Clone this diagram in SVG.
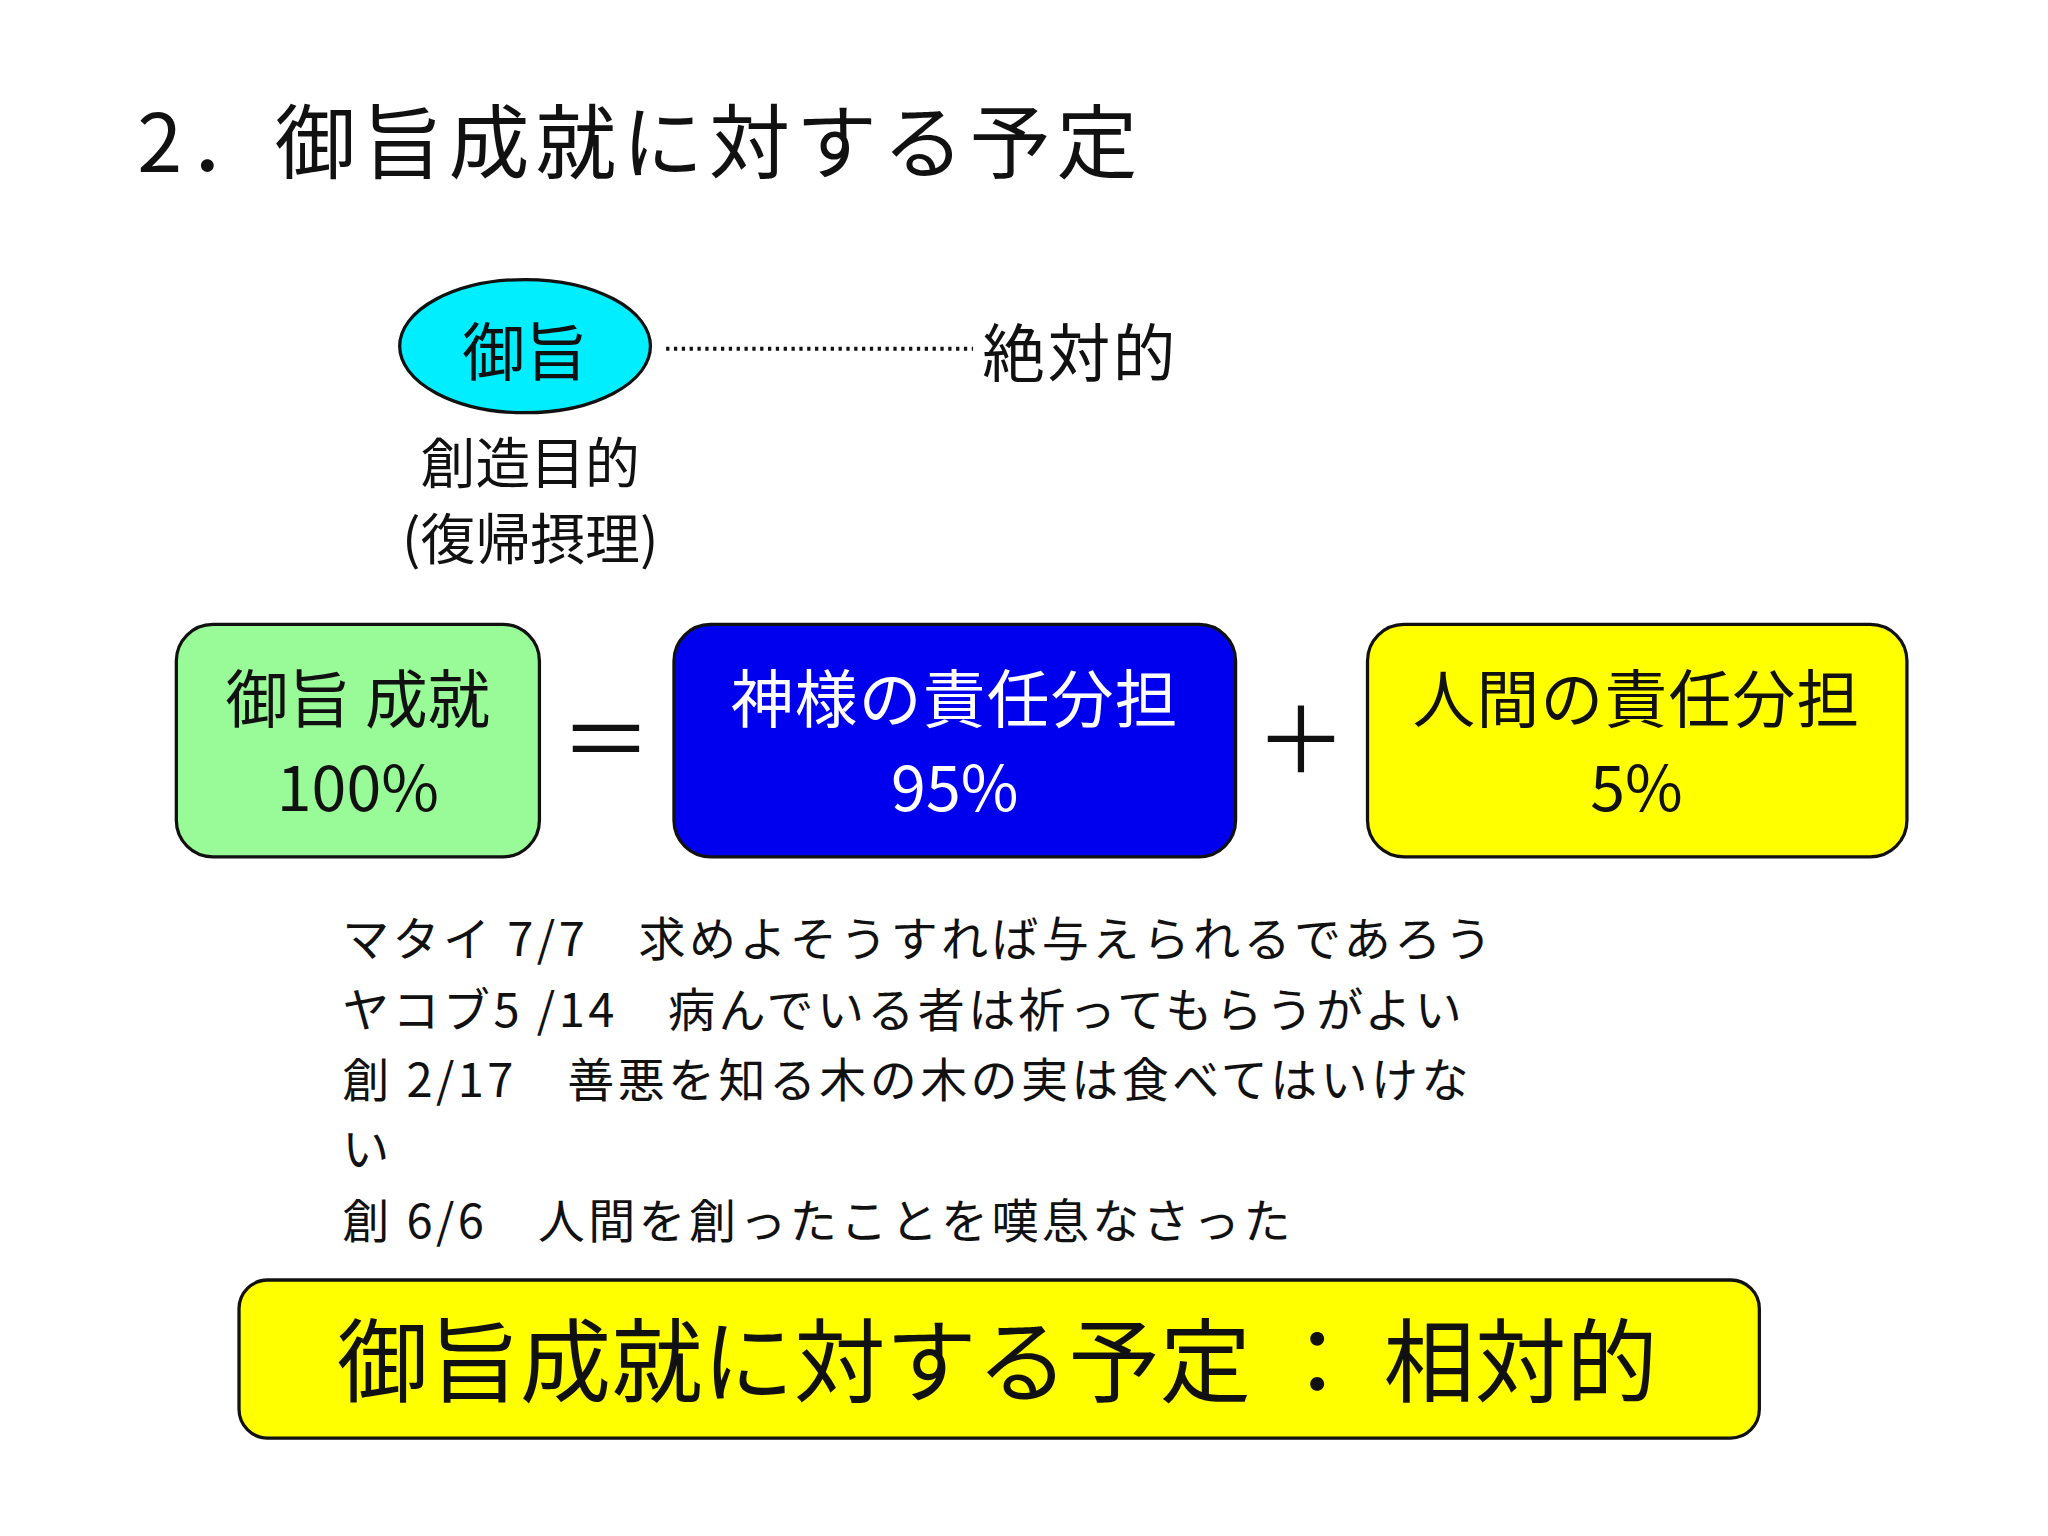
<svg xmlns="http://www.w3.org/2000/svg" width="2048" height="1536" viewBox="0 0 2048 1536">
<style>
text{font-family:"Noto Sans CJK JP","Liberation Sans",sans-serif;fill:#111}
.c{text-anchor:middle}
.b{stroke:#111;stroke-width:2.5}
.l{font-size:36px;letter-spacing:2.6px}
</style>
<rect width="2048" height="1536" fill="#fff"/>
<g transform="scale(1.30612)">
<text x="105" y="132" font-size="62" letter-spacing="4.5">2．御旨成就に対する予定</text>
<g id="n1"><ellipse cx="402" cy="265" rx="96" ry="51" fill="#00eeff" class="b"/><text x="402" y="287" font-size="48" class="c">御旨</text></g>
<g id="connectors"><line x1="510" y1="267" x2="745" y2="267" stroke="#111" stroke-width="3" stroke-dasharray="2.5,3.5"/></g>
<g id="n2"><text x="752" y="288" font-size="48" letter-spacing="2">絶対的</text></g>
<g id="n3"><text x="406" y="370" font-size="42" class="c">創造目的</text><text x="406" y="428" font-size="42" class="c">(復帰摂理)</text></g>
<g id="n4"><rect x="135" y="478" width="278" height="178" rx="28" fill="#98fb98" class="b"/><text x="274" y="553" font-size="48" class="c">御旨 成就</text><text x="274" y="621" font-size="48" class="c">100%</text></g>
<text x="464" y="592" font-size="70" class="c">＝</text>
<g id="n5"><rect x="516" y="478" width="430" height="178" rx="28" fill="#0000ee" class="b"/><text x="731" y="553" font-size="48" class="c" style="fill:#fff" letter-spacing="1">神様の責任分担</text><text x="731" y="621" font-size="48" class="c" style="fill:#fff">95%</text></g>
<text x="996" y="592" font-size="70" class="c">＋</text>
<g id="n6"><rect x="1047" y="478" width="413" height="178" rx="28" fill="#ffff00" class="b"/><text x="1253" y="553" font-size="48" class="c" letter-spacing="1">人間の責任分担</text><text x="1253" y="621" font-size="48" class="c">5%</text></g>
<g id="n7">
<text x="262" y="732" class="l">マタイ 7/7　求めよそうすれば与えられるであろう</text>
<text x="262" y="786" class="l">ヤコブ5 /14　病んでいる者は祈ってもらうがよい</text>
<text x="262" y="840" class="l">創 2/17　善悪を知る木の木の実は食べてはいけな</text>
<text x="262" y="893" class="l">い</text>
<text x="262" y="948" class="l">創 6/6　人間を創ったことを嘆息なさった</text>
</g>
<g id="n8"><rect x="183" y="980" width="1164" height="121" rx="22" fill="#ffff00" class="b"/><text x="258" y="1068" font-size="70">御旨成就に対する予定 ： 相対的</text></g>
</g>
</svg>
